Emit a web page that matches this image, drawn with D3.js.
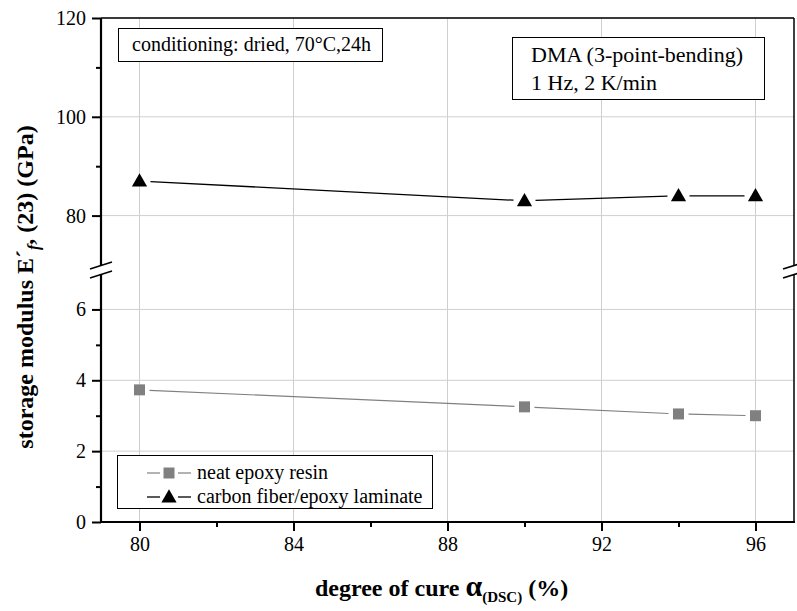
<!DOCTYPE html>
<html>
<head>
<meta charset="utf-8">
<script src="https://cdn.jsdelivr.net/npm/d3@7"></script>
<style>
  html, body { margin: 0; padding: 0; background: #fff; }
  svg { display: block; }
  svg text { font-family: "Liberation Serif", "Times New Roman", serif; fill: #000; }
</style>
</head>
<body>
<svg id="chart" width="797" height="611"></svg>
<script>
// ---- data ----
const degreeOfCure = [80, 90, 94, 96];
const neatResin = [3.73, 3.25, 3.05, 3.0];
const laminate = [87, 83, 84, 84];
const xMajorTicks = [80, 84, 88, 92, 96];
const xMinorTicks = [82, 86, 90, 94];
const yUpperMajor = [80, 100, 120];
const yUpperMinor = [90, 110];
const yLowerMajor = [0, 2, 4, 6];
const yLowerMinor = [1, 3, 5];
const legendLabels = ["neat epoxy resin", "carbon fiber/epoxy laminate"];
const annot1 = "conditioning: dried, 70°C,24h";
const annot2 = ["DMA (3-point-bending)", "1 Hz, 2 K/min"];

// ---- layout ----
const L = 101, R = 794, T = 18, B = 522;
const svg = d3.select("#chart");
const x = d3.scaleLinear().domain([79, 97]).range([L, R]);
const yUp = d3.scaleLinear().domain([70, 120]).range([265, T]);
const yLo = d3.scaleLinear().domain([0, 7]).range([B, 274]);
const gray = "#808080";
const fmt = d3.format("d");

// grid
const grid = svg.append("g").attr("stroke", "#cfcfcf").attr("stroke-width", 1);
xMajorTicks.forEach(v => grid.append("line").attr("x1", x(v)).attr("x2", x(v)).attr("y1", T).attr("y2", B));
yUpperMajor.forEach(v => grid.append("line").attr("x1", L).attr("x2", R).attr("y1", yUp(v)).attr("y2", yUp(v)));
yLowerMajor.forEach(v => grid.append("line").attr("x1", L).attr("x2", R).attr("y1", yLo(v)).attr("y2", yLo(v)));

// axes
const gx = svg.append("g").attr("transform", `translate(0,${B})`)
  .call(d3.axisBottom(x).tickValues(xMajorTicks).tickSize(9).tickPadding(6).tickFormat(fmt));
const gxm = svg.append("g").attr("transform", `translate(0,${B})`)
  .call(d3.axisBottom(x).tickValues(xMinorTicks).tickSize(5).tickFormat(""));
const gyu = svg.append("g").attr("transform", `translate(${L},0)`)
  .call(d3.axisLeft(yUp).tickValues(yUpperMajor).tickSize(9).tickPadding(6).tickFormat(fmt));
const gyum = svg.append("g").attr("transform", `translate(${L},0)`)
  .call(d3.axisLeft(yUp).tickValues(yUpperMinor).tickSize(5).tickFormat(""));
const gyl = svg.append("g").attr("transform", `translate(${L},0)`)
  .call(d3.axisLeft(yLo).tickValues(yLowerMajor).tickSize(9).tickPadding(6).tickFormat(fmt));
const gylm = svg.append("g").attr("transform", `translate(${L},0)`)
  .call(d3.axisLeft(yLo).tickValues(yLowerMinor).tickSize(5).tickFormat(""));

[gx, gxm, gyu, gyum, gyl, gylm].forEach(g => {
  g.attr("font-family", null).attr("font-size", null);
  g.select(".domain").remove();
  g.selectAll(".tick line").attr("stroke", "#000").attr("stroke-width", 2);
  g.selectAll(".tick text").style("font-size", "20px").attr("fill", "#000");
});

// frame lines
const fr = svg.append("g").attr("stroke", "#000").attr("fill", "none");
fr.append("line").attr("x1", L).attr("x2", R + 1).attr("y1", B).attr("y2", B).attr("stroke-width", 2.2);
fr.append("line").attr("x1", L).attr("x2", R).attr("y1", T).attr("y2", T).attr("stroke-width", 1.5);
[[L, 2.2], [R, 1.5]].forEach(([xx, w]) => {
  fr.append("line").attr("x1", xx).attr("x2", xx).attr("y1", T).attr("y2", 265).attr("stroke-width", w);
  fr.append("line").attr("x1", xx).attr("x2", xx).attr("y1", 274).attr("y2", B).attr("stroke-width", w);
  fr.append("line").attr("x1", xx - 11).attr("x2", xx + 11).attr("y1", 269).attr("y2", 262).attr("stroke-width", 1.6);
  fr.append("line").attr("x1", xx - 11).attr("x2", xx + 11).attr("y1", 278).attr("y2", 271).attr("stroke-width", 1.6);
});

// series
function trimmedSegments(g, pts, gap, color, width) {
  for (let i = 0; i < pts.length - 1; i++) {
    const [x0, y0] = pts[i], [x1, y1] = pts[i + 1];
    const dx = x1 - x0, dy = y1 - y0, len = Math.hypot(dx, dy);
    const ux = dx / len, uy = dy / len;
    g.append("line")
      .attr("x1", x0 + ux * gap).attr("y1", y0 + uy * gap)
      .attr("x2", x1 - ux * gap).attr("y2", y1 - uy * gap)
      .attr("stroke", color).attr("stroke-width", width);
  }
}
const sq = d3.symbol().type(d3.symbolSquare).size(121);
const tri = d3.symbol().type(d3.symbolTriangle).size(100);

const ptsResin = degreeOfCure.map((d, i) => [x(d), yLo(neatResin[i])]);
const ptsLam = degreeOfCure.map((d, i) => [x(d), yUp(laminate[i])]);
const gs = svg.append("g");
trimmedSegments(gs, ptsResin, 10, gray, 1.2);
trimmedSegments(gs, ptsLam, 11, "#000", 1.3);
gs.selectAll(".sq").data(ptsResin).enter().append("path")
  .attr("d", sq).attr("transform", d => `translate(${d[0]},${d[1]})`).attr("fill", gray);
gs.selectAll(".tri").data(ptsLam).enter().append("path")
  .attr("d", tri).attr("transform", d => `translate(${d[0]},${d[1] + 1})`).attr("fill", "#000");

// legend
const lg = svg.append("g");
lg.append("rect").attr("x", 117.5).attr("y", 455.5).attr("width", 315).attr("height", 53)
  .attr("fill", "#fff").attr("stroke", "#000").attr("stroke-width", 1);
[[473, gray, sq, 1.2], [497, "#000", tri, 1.3]].forEach(([yy, c, sym, w], i) => {
  lg.append("line").attr("x1", 147).attr("x2", 160).attr("y1", yy).attr("y2", yy).attr("stroke", c).attr("stroke-width", w);
  lg.append("line").attr("x1", 178).attr("x2", 191).attr("y1", yy).attr("y2", yy).attr("stroke", c).attr("stroke-width", w);
  lg.append("path").attr("d", sym).attr("transform", `translate(169,${yy + (i ? 1 : 0)})`).attr("fill", c);
  lg.append("text").attr("x", 197).attr("y", yy + 6).style("font-size", "20px").text(legendLabels[i]);
});

// annotations
const a1 = svg.append("g");
a1.append("rect").attr("x", 118.5).attr("y", 28.5).attr("width", 264).attr("height", 33)
  .attr("fill", "#fff").attr("stroke", "#000").attr("stroke-width", 1);
a1.append("text").attr("x", 132).attr("y", 51).style("font-size", "20px").text(annot1);

const a2 = svg.append("g");
a2.append("rect").attr("x", 512.5).attr("y", 37.5).attr("width", 252).attr("height", 62)
  .attr("fill", "#fff").attr("stroke", "#000").attr("stroke-width", 1);
annot2.forEach((t, i) => a2.append("text").attr("x", 531).attr("y", 62 + i * 28).style("font-size", "22px").text(t));

// axis titles
const xt = svg.append("text").attr("x", 315).attr("y", 596).style("font-size", "24px").style("font-weight", "bold");
xt.append("tspan").text("degree of cure ");
xt.append("tspan").style("font-size", "30px").text("α");
xt.append("tspan").style("font-size", "15px").attr("dy", 6).text("(DSC)");
xt.append("tspan").attr("dy", -6).text(" (%)");

const yt = svg.append("text").attr("transform", "translate(33,287) rotate(-90)")
  .attr("text-anchor", "middle").style("font-size", "24px").style("font-weight", "bold");
yt.append("tspan").text("storage modulus E´");
yt.append("tspan").style("font-size", "16px").style("font-style", "italic").attr("dy", 6).text("f");
yt.append("tspan").attr("dy", -6).text(", (23) (GPa)");
</script>
</body>
</html>
